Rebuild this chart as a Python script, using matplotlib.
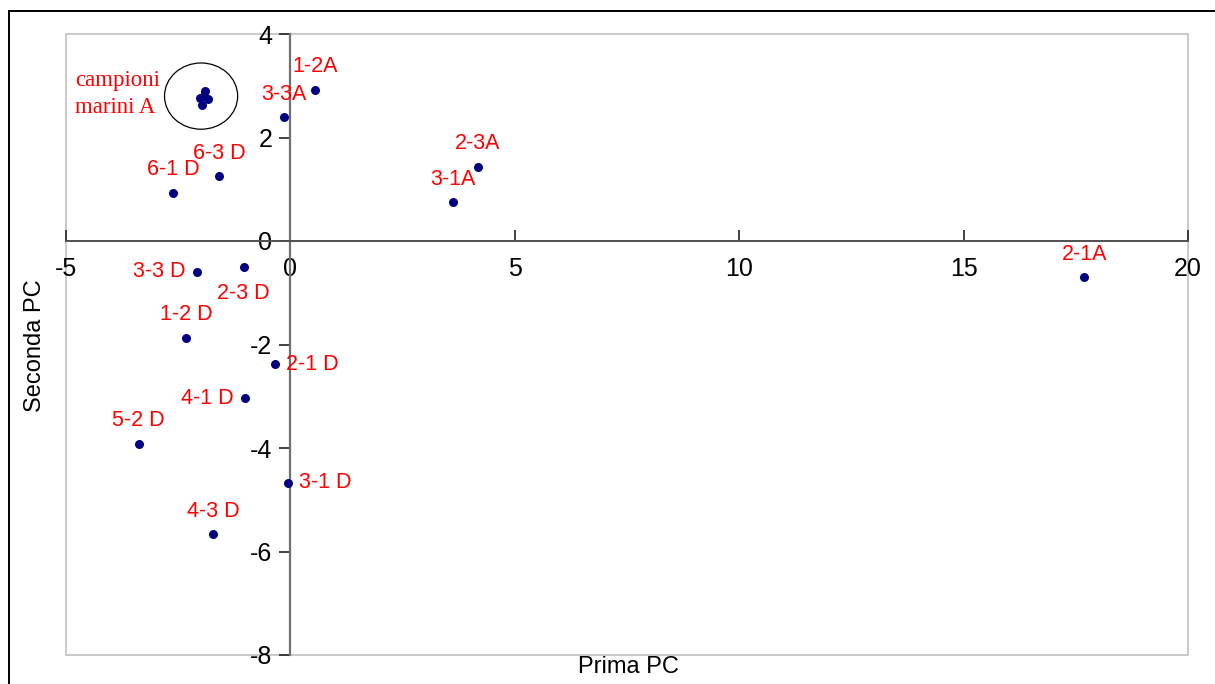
import matplotlib
matplotlib.use("Agg")
import matplotlib.pyplot as plt
from matplotlib.patches import Ellipse, Rectangle

# PCA scores: first and second principal components
sample_labels = ["1-2A", "3-3A", "6-3 D", "6-1 D", "2-3A", "3-1A", "2-1A",
                 "3-3 D", "2-3 D", "1-2 D", "2-1 D", "4-1 D", "5-2 D",
                 "3-1 D", "4-3 D"]
pc1 = [0.55, -0.15, -1.59, -2.62, 4.17, 3.63, 17.69,
       -2.09, -1.04, -2.33, -0.34, -1.01, -3.38,
       -0.06, -1.72]
pc2 = [2.92, 2.39, 1.25, 0.93, 1.43, 0.75, -0.70,
       -0.59, -0.50, -1.87, -2.38, -3.04, -3.92,
       -4.67, -5.67]

# unlabelled marine samples grouped inside the circle
marine_pc1 = [-1.90, -2.01, -1.84, -1.97, -1.93]
marine_pc2 = [2.90, 2.76, 2.74, 2.63, 2.80]

x_ticks = [-5, 0, 5, 10, 15, 20]
y_ticks = [-8, -6, -4, -2, 0, 2, 4]

# label placement relative to each point: (dx, dy in pixels, ha)
label_place = {
    "1-2A": (0, 23, "center"), "3-3A": (0, 23, "center"),
    "6-3 D": (0, 23, "center"), "6-1 D": (0, 23, "center"),
    "2-3A": (0, 23, "center"), "3-1A": (0, 23, "center"),
    "2-1A": (0, 23, "center"), "3-3 D": (-11, 0, "right"),
    "2-3 D": (0, -27, "center"), "1-2 D": (0, 23, "center"),
    "2-1 D": (11, 0, "left"), "4-1 D": (-11, 0, "right"),
    "5-2 D": (0, 23, "center"), "3-1 D": (11, 0, "left"),
    "4-3 D": (0, 23, "center"),
}

W, H = 1215, 684
fig = plt.figure(figsize=(W / 100, H / 100), dpi=100)
fig.patch.set_facecolor("white")
plt.rcParams["font.family"] = ["Liberation Sans", "DejaVu Sans"]

ax = fig.add_axes([66 / W, 1 - 655 / H, (1188 - 66) / W, (655 - 34) / H])
ax.set_xlim(-5, 20)
ax.set_ylim(-8, 4)

# light grey plot frame
ax.add_patch(Rectangle((0, 0), 1, 1, transform=ax.transAxes, fill=False,
                       edgecolor="#c0c0c0", lw=1.2, zorder=0, clip_on=False))

for s in ["top", "right"]:
    ax.spines[s].set_visible(False)
ax.spines["left"].set_position(("data", 0))
ax.spines["bottom"].set_position(("data", 0))
ax.spines["left"].set_color("#707070")
ax.spines["bottom"].set_color("#505050")
ax.spines["left"].set_linewidth(1.6)
ax.spines["bottom"].set_linewidth(1.4)

ax.set_xticks(x_ticks)
ax.set_yticks(y_ticks)
ax.set_xticklabels([str(t) for t in x_ticks])
ax.set_yticklabels([str(t) for t in y_ticks])
ax.tick_params(axis="x", direction="in", length=8, width=1.2, color="#222222",
               labelsize=18, pad=11.5)
ax.tick_params(axis="y", direction="out", length=8, width=1.2, color="#222222",
               labelsize=18, pad=5)

ax.scatter(pc1, pc2, s=42, color="#000080", zorder=3, linewidths=0)
ax.scatter(marine_pc1, marine_pc2, s=42, color="#000080", zorder=3, linewidths=0)

for lab, x, y in zip(sample_labels, pc1, pc2):
    dx, dy, ha = label_place[lab]
    ax.annotate(lab, (x, y), xytext=(dx, dy), textcoords="offset pixels",
                ha=ha, va="center", color="red", fontsize=15.5)

ax.add_patch(Ellipse((-1.99, 2.80), 1.63, 1.28, fill=False,
                     edgecolor="black", lw=0.9, zorder=2))
ax.text(-4.80, 2.995, "campioni", family="Liberation Serif", color="red",
        fontsize=16.5, ha="left", va="baseline")
ax.text(-4.80, 2.47, "marini A", family="Liberation Serif", color="red",
        fontsize=16.5, ha="left", va="baseline")

fig.text(628 / W, 1 - 667 / H, "Prima PC", ha="center", va="center",
         fontsize=17)
fig.text(35 / W, 1 - 346 / H, "Seconda PC", ha="center", va="center",
         rotation=90, fontsize=17)

# outer border of the figure
fig.add_artist(Rectangle((9 / W, -0.1), 1.2, 1 - 11 / H + 0.1,
                         transform=fig.transFigure, fill=False,
                         edgecolor="black", lw=1.4))

fig.savefig("out.png", dpi=100)
